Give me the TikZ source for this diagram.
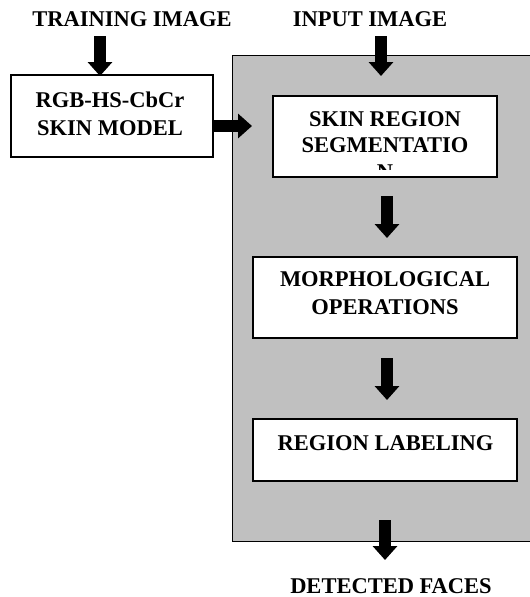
\documentclass[tikz,border=0pt]{standalone}
\usepackage{fontspec}
\setmainfont{Liberation Serif}
\usetikzlibrary{arrows.meta}
\tikzset{
  lbl/.style={font=\bfseries\fontsize{22.5}{28}\selectfont, align=center, inner sep=0pt, anchor=center},
  wbox/.style={draw=black, fill=white, line width=1.4pt},
  barrow/.style={draw=black, line width=12pt, -{Triangle[width=24pt,length=14pt]}},
}
\begin{document}
\begin{tikzpicture}[x=1pt,y=-1pt]
\useasboundingbox (0,0) rectangle (530,597);
% grey panel
\path[fill={rgb,255:red,192;green,192;blue,192}, draw=black, line width=0.9pt] (232,55) rectangle (536,541);
% top labels
\node[lbl] (train) at (132,19) {TRAINING IMAGE};
\node[lbl] (input) at (370,19) {INPUT IMAGE};
% RGB box
\draw[wbox] (11,75) rectangle (213,157);
\node (rgb) at (112,116) {};
\node[lbl] (rgbt) at (110,114) {RGB-HS-CbCr\\SKIN MODEL};
% skin region box (clipped text)
\draw[wbox] (273,96) rectangle (497,177);
\node (skin) at (385,136) {};
\begin{scope}
\clip (276,99) rectangle (494,169.5);
\node[lbl, font=\bfseries\fontsize{22.5}{26.5}\selectfont, anchor=north] (skint) at (385,111) {SKIN REGION\\SEGMENTATIO\\N};
\end{scope}
% morphological box
\draw[wbox] (253,257) rectangle (517,338);
\node[lbl] (morph) at (385,293.5) {MORPHOLOGICAL\\OPERATIONS};
% region labeling box
\draw[wbox] (253,419) rectangle (517,481);
\node[lbl] (label) at (385.5,443.5) {REGION LABELING};
% bottom label
\node[lbl] (faces) at (391,586) {DETECTED FACES};
% arrow endpoints
\coordinate (a1s) at (100,36);  \coordinate (a1e) at (100,76);
\coordinate (a2s) at (381,36);  \coordinate (a2e) at (381,76);
\coordinate (a3s) at (213,126); \coordinate (a3e) at (252,126);
\coordinate (a4s) at (387,196); \coordinate (a4e) at (387,238);
\coordinate (a5s) at (387,358); \coordinate (a5e) at (387,400);
\coordinate (a6s) at (385,520); \coordinate (a6e) at (385,560);
\draw[barrow] (a1s) -- (a1e);
\draw[barrow] (a2s) -- (a2e);
\draw[barrow] (a3s) -- (a3e);
\draw[barrow] (a4s) -- (a4e);
\draw[barrow] (a5s) -- (a5e);
\draw[barrow] (a6s) -- (a6e);
\end{tikzpicture}
\end{document}
